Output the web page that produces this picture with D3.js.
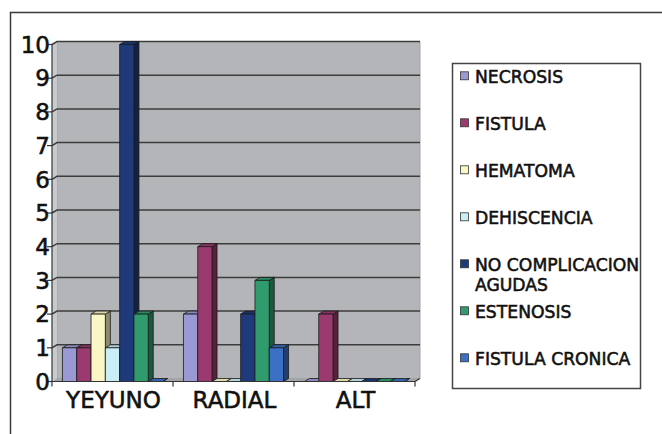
<!DOCTYPE html>
<html>
<head>
<meta charset="utf-8">
<script src="https://cdn.jsdelivr.net/npm/d3@7"></script>
<style>
  html, body { margin: 0; padding: 0; background: #ffffff; }
  svg { display: block; }
  text { font-family: "DejaVu Sans", Verdana, sans-serif; fill: #111; stroke: #111; stroke-width: 0.55px; }
</style>
</head>
<body>
<svg id="chart" width="662" height="434"></svg>
<script>
// Complications by anastomosis type
const categories = ["YEYUNO", "RADIAL", "ALT"];
const seriesNames = ["NECROSIS", "FISTULA", "HEMATOMA", "DEHISCENCIA",
                     "NO COMPLICACION AGUDAS", "ESTENOSIS", "FISTULA CRONICA"];
const necrosis       = [1, 2, 0];
const fistula        = [1, 4, 2];
const hematoma       = [2, 0, 0];
const dehiscencia    = [1, 0, 0];
const noComplicacion = [10, 2, 0];
const estenosis      = [2, 3, 0];
const fistulaCronica = [0, 1, 0];
const yTicks = [0, 1, 2, 3, 4, 5, 6, 7, 8, 9, 10];
const seriesColors = ["#9b99d4", "#9a3a6e", "#fbf7c4", "#cbedf6",
                      "#1f3a7a", "#309c6e", "#3c70c4"];

const seriesValues = [necrosis, fistula, hematoma, dehiscencia,
                      noComplicacion, estenosis, fistulaCronica];

const svg = d3.select("#chart");

// Outer frame
svg.append("path")
  .attr("d", "M10.5,434 L10.5,12.5 L662,12.5")
  .attr("fill", "none").attr("stroke", "#3a3a3a").attr("stroke-width", 1.5);

// Front-plane geometry and 3D depth offset
const X0 = 52, X1 = 415;
const DX = 5, DY = -3;

const x0 = d3.scaleBand().domain(categories).range([X0, X1]).padding(0);
const x1 = d3.scaleBand().domain(seriesNames).range([0, x0.bandwidth()])
  .paddingInner(0).paddingOuter(0.73);
const y = d3.scaleLinear().domain([0, 10]).range([381.5, 44.5]);

const y0 = y(0), yTop = y(10);

// Back wall
svg.append("polygon")
  .attr("points", [[X0 + DX, yTop + DY], [X1 + DX, yTop + DY], [X1 + DX, y0 + DY], [X0 + DX, y0 + DY]].join(" "))
  .attr("fill", "#b4b5b8").attr("stroke", "#a2a3a6").attr("stroke-width", 1);

// Left side wall
svg.append("polygon")
  .attr("points", [[X0, y0], [X0, yTop], [X0 + DX, yTop + DY], [X0 + DX, y0 + DY]].join(" "))
  .attr("fill", "#c9cacd");

// Floor
svg.append("polygon")
  .attr("points", [[X0, y0], [X1, y0], [X1 + DX, y0 + DY], [X0 + DX, y0 + DY]].join(" "))
  .attr("fill", "#a3a4a7");

// Gridlines on back wall and across side wall
const grid = svg.append("g").attr("stroke", "#3d3d3d").attr("stroke-width", 1.5).attr("fill", "none");
yTicks.filter(v => v > 0).forEach(v => {
  grid.append("path")
    .attr("d", `M${X0},${y(v)} L${X0 + DX},${y(v) + DY} L${X1 + DX},${y(v) + DY}`);
});

// Y axis
const yAxis = svg.append("g");
yAxis.append("line")
  .attr("x1", X0).attr("x2", X0).attr("y1", y0).attr("y2", yTop)
  .attr("stroke", "#333").attr("stroke-width", 1.2);
yTicks.forEach(v => {
  yAxis.append("line")
    .attr("x1", X0 - 5).attr("x2", X0).attr("y1", y(v)).attr("y2", y(v))
    .attr("stroke", "#333").attr("stroke-width", 1.2);
  yAxis.append("text")
    .attr("x", X0 - 2).attr("y", y(v))
    .attr("dy", "0.36em")
    .attr("text-anchor", "end")
    .attr("font-size", 23)
    .text(v);
});

// Bars: side, top, then front, drawn left to right
const bars = svg.append("g").attr("stroke", "#1a1a1a").attr("stroke-width", 0.8).attr("stroke-linejoin", "round");
categories.forEach((cat, ci) => {
  seriesNames.forEach((name, si) => {
    const v = seriesValues[si][ci];
    const c = d3.color(seriesColors[si]);
    const bx = x0(cat) + x1(name);
    const bw = x1.bandwidth();
    const by = y(v);
    const g = bars.append("g");
    // side face
    g.append("polygon")
      .attr("points", [[bx + bw, by], [bx + bw + DX, by + DY], [bx + bw + DX, y0 + DY], [bx + bw, y0]].join(" "))
      .attr("fill", c.darker(1.6));
    // top face
    g.append("polygon")
      .attr("points", [[bx, by], [bx + DX, by + DY], [bx + bw + DX, by + DY], [bx + bw, by]].join(" "))
      .attr("fill", c.darker(0.35));
    // front face
    if (v > 0) {
      g.append("rect")
        .attr("x", bx).attr("y", by)
        .attr("width", bw).attr("height", y0 - by)
        .attr("fill", c);
    }
  });
});

// X axis line and category ticks
const xAxis = svg.append("g").attr("stroke", "#333").attr("stroke-width", 1.2);
xAxis.append("line").attr("x1", X0).attr("x2", X1).attr("y1", y0).attr("y2", y0);
xAxis.append("line").attr("x1", X1).attr("x2", X1 + DX).attr("y1", y0).attr("y2", y0 + DY);
[X0, ...categories.map(c => x0(c) + x0.bandwidth())].forEach(xv => {
  xAxis.append("line").attr("x1", xv).attr("x2", xv).attr("y1", y0).attr("y2", y0 + 5);
});
categories.forEach(cat => {
  svg.append("text")
    .attr("x", x0(cat) + x0.bandwidth() / 2 + 1)
    .attr("y", 408)
    .attr("text-anchor", "middle")
    .attr("font-size", 23)
    .text(cat);
});

// Legend
const LX = 452.5, LY = 63.5, LW = 188, LH = 325;
svg.append("clipPath").attr("id", "legendClip")
  .append("rect").attr("x", LX).attr("y", LY).attr("width", LW).attr("height", LH);
const legend = svg.append("g");
legend.append("rect")
  .attr("x", LX).attr("y", LY).attr("width", LW).attr("height", LH)
  .attr("fill", "#ffffff").attr("stroke", "#444").attr("stroke-width", 1.5);
const legendItems = legend.append("g").attr("clip-path", "url(#legendClip)");
const maxLine = 158;
seriesNames.forEach((name, i) => {
  const base = 83.3 + i * 47;
  legendItems.append("rect")
    .attr("x", 460.5).attr("y", base - 11.5)
    .attr("width", 8).attr("height", 8)
    .attr("fill", seriesColors[i])
    .attr("stroke", "#333").attr("stroke-width", 0.8);
  const t = legendItems.append("text")
    .attr("x", 475).attr("y", base)
    .attr("font-size", 17.2);
  // wrap long labels onto a second line
  const words = name.split(" ");
  let line = [], lineNo = 0;
  let tspan = t.append("tspan").attr("x", 475).attr("y", base);
  words.forEach(w => {
    line.push(w);
    tspan.text(line.join(" "));
    if (tspan.node().getComputedTextLength() > maxLine + 12 && line.length > 1) {
      line.pop();
      tspan.text(line.join(" "));
      line = [w];
      lineNo++;
      tspan = t.append("tspan").attr("x", 475).attr("y", base + lineNo * 20).text(w);
    }
  });
});
</script>
</body>
</html>
